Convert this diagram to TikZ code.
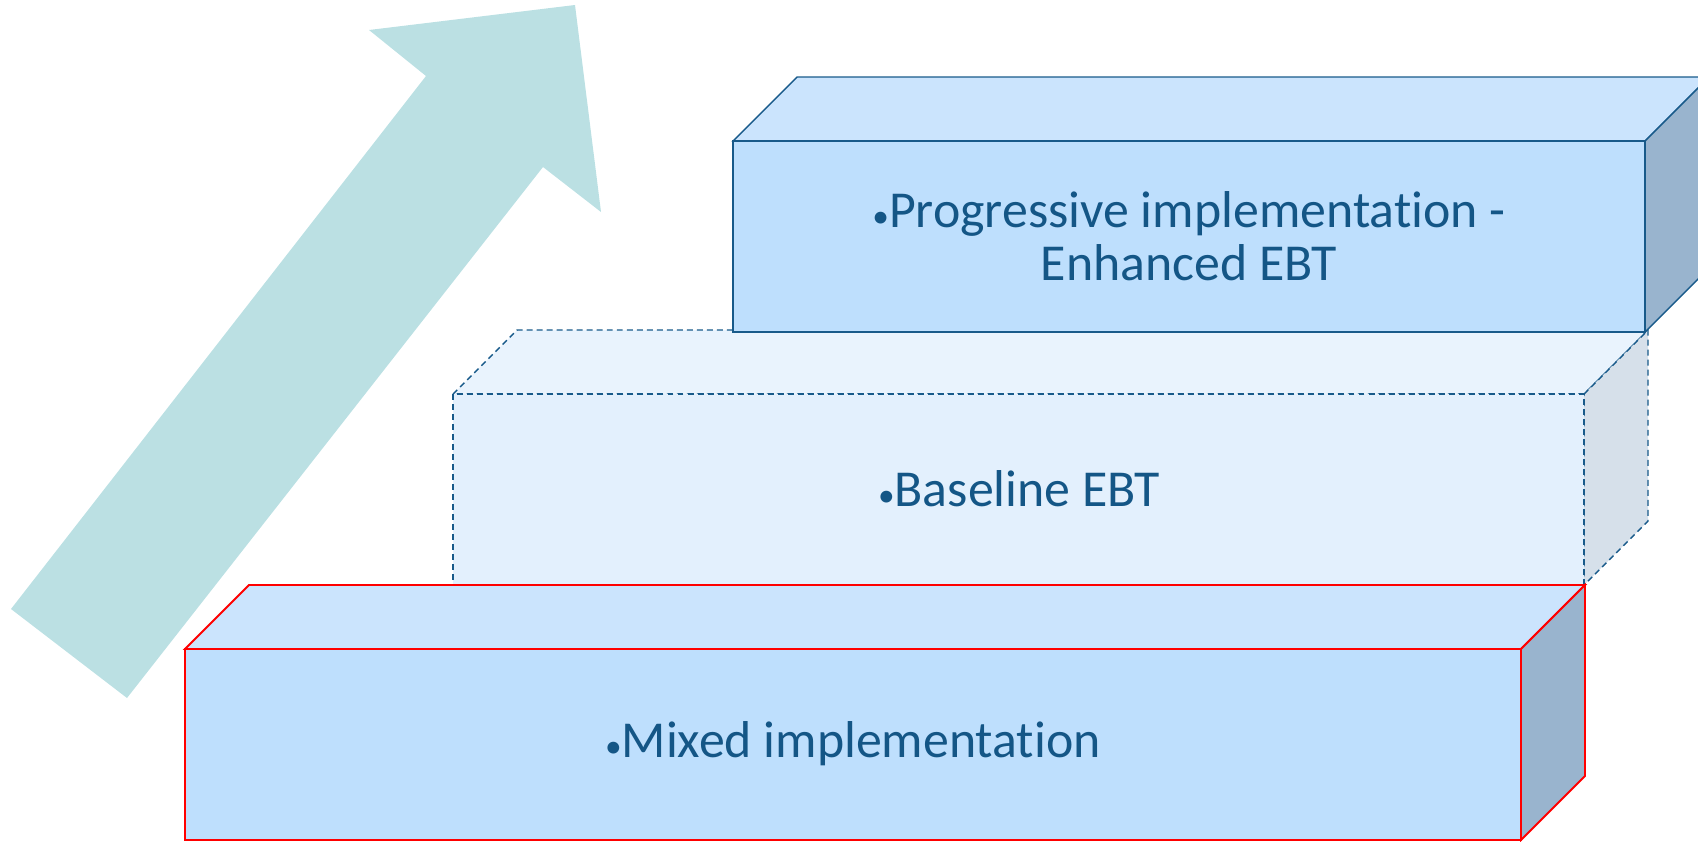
\documentclass[tikz,border=0pt]{standalone}
\usepackage{fontspec}
\setmainfont{Carlito}[RawFeature=-liga]
\usepackage{tikz}
\definecolor{arrowteal}{RGB}{187,224,227}
\definecolor{edgeblue}{RGB}{24,90,138}
\definecolor{textblue}{RGB}{20,86,134}
\definecolor{solidfront}{RGB}{190,223,253}
\definecolor{solidtop}{RGB}{203,228,253}
\definecolor{solidside}{RGB}{153,180,206}
\definecolor{palefront}{RGB}{227,240,253}
\definecolor{paletop}{RGB}{233,243,253}
\definecolor{paleside}{RGB}{214,224,234}
\newcommand{\stepdot}{{\fontsize{19}{19}\selectfont•}}
\tikzstyle{mixed}=[draw=red,line width=1.1pt]
\tikzstyle{base}=[draw=edgeblue,line width=0.8pt,dash pattern=on 3.4pt off 2.3pt]
\tikzstyle{prog}=[draw=edgeblue,line width=0.8pt]
\tikzstyle{mixed-front}=[fill=solidfront]
\tikzstyle{mixed-top}=[fill=solidtop]
\tikzstyle{mixed-side}=[fill=solidside]
\tikzstyle{prog-front}=[fill=solidfront]
\tikzstyle{prog-top}=[fill=solidtop]
\tikzstyle{prog-side}=[fill=solidside]
\tikzstyle{base-front}=[fill=palefront]
\tikzstyle{base-top}=[fill=paletop]
\tikzstyle{base-side}=[fill=paleside]
\tikzstyle{steptext}=[text=textblue,font=\fontsize{29.5}{30}\selectfont,align=center]

\begin{document}
\begin{tikzpicture}[x=0.02cm,y=-0.02cm]
    \useasboundingbox (0,0) rectangle (1698,842);
    \clip (0,0) rectangle (1698,842);
    % The big arrow going up to the right
    \fill[arrowteal] (11,609) -- (426,76) -- (369,30) -- (575,5)
        -- (601,212) -- (543,167) -- (127,698) -- cycle;

    % Then the three steps, back one first
    \foreach \xa/\ya/\xb/\yb/\kind in {453/394/1584/585/base, 185/649/1521/840/mixed, 733/141/1645/332/prog}
    {
        \path[\kind, \kind-top] (\xa,\ya) -- (\xa+64,\ya-64) -- (\xb+64,\ya-64) -- (\xb,\ya) -- cycle;
        \path[\kind, \kind-side] (\xb,\ya) -- (\xb+64,\ya-64) -- (\xb+64,\yb-64) -- (\xb,\yb) -- cycle;
        \path[\kind, \kind-front] (\xa,\ya) rectangle (\xb,\yb);
    }

    % Labels on the front faces
    \node[steptext] (baseline) at (1019,489) {\stepdot Baseline EBT};
    \node[steptext] (mixedimpl) at (853,744) {\stepdot Mixed implementation};
    \node[steptext] (progressive) at (1189,236) {\stepdot Progressive implementation -\\Enhanced EBT};
\end{tikzpicture}
\end{document}
